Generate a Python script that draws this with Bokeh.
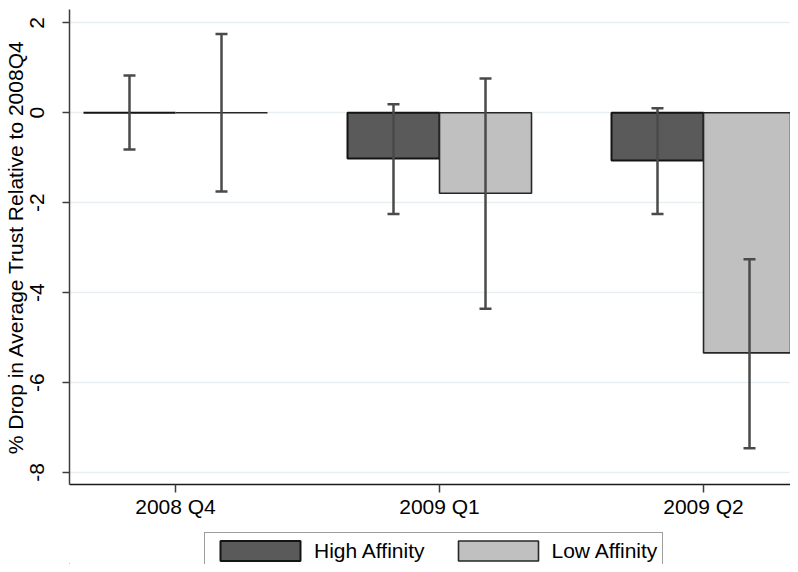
from bokeh.plotting import figure
from bokeh.layouts import column
from bokeh.models import (ColumnDataSource, Range1d, FixedTicker, Whisker, TeeHead,
                          Legend, LegendItem)
from bokeh.embed import file_html
from bokeh.resources import INLINE

# ---- data ----
quarters = ["2008 Q4", "2009 Q1", "2009 Q2"]
high_vals = [0.0, -1.02, -1.06]
high_lo = [-0.82, -2.25, -2.25]
high_hi = [0.83, 0.19, 0.10]
low_vals = [0.0, -1.79, -5.34]
low_lo = [-1.75, -4.36, -7.46]
low_hi = [1.75, 0.76, -3.26]
y_ticks = [-8, -6, -4, -2, 0, 2]
series_labels = ["High Affinity", "Low Affinity"]

FONT = "Liberation Sans"
BAR_W = 0.3485
HIGH_FILL, HIGH_LINE = "#5a5a5a", "#141414"
LOW_FILL, LOW_LINE = "#c0c0c0", "#262626"
idx = list(range(len(quarters)))

src_high = ColumnDataSource(dict(x=[i - BAR_W / 2 for i in idx], top=[0.0] * 3,
                                 bottom=high_vals, lower=high_lo, upper=high_hi))
src_low = ColumnDataSource(dict(x=[i + BAR_W / 2 for i in idx], top=[0.0] * 3,
                                bottom=low_vals, lower=low_lo, upper=low_hi))

p = figure(width=790, height=524, output_backend="svg", toolbar_location=None,
           x_range=Range1d(-0.4015, 2.3295), y_range=Range1d(-8.267, 2.296),
           min_border_left=69, min_border_right=0, min_border_top=9, min_border_bottom=40)
p.outline_line_color = None
p.background_fill_color = "white"
p.border_fill_color = "white"

p.vbar(x="x", top="top", bottom="bottom", width=BAR_W, source=src_high,
       fill_color=HIGH_FILL, line_color=HIGH_LINE, line_width=2)
p.vbar(x="x", top="top", bottom="bottom", width=BAR_W, source=src_low,
       fill_color=LOW_FILL, line_color=LOW_LINE, line_width=1.6)

for src in (src_high, src_low):
    w = Whisker(source=src, base="x", lower="lower", upper="upper",
                line_color="#4a4a4a", line_width=2.5, level="annotation",
                upper_head=TeeHead(size=12, line_color="#4a4a4a", line_width=2.5),
                lower_head=TeeHead(size=12, line_color="#4a4a4a", line_width=2.5))
    p.add_layout(w)

# grid
p.xgrid.visible = False
p.ygrid.ticker = FixedTicker(ticks=y_ticks)
p.ygrid.grid_line_color = "#e8eff2"
p.ygrid.grid_line_width = 1.5

# y axis
p.yaxis.ticker = FixedTicker(ticks=y_ticks)
p.yaxis.major_label_overrides = {t: str(t) for t in y_ticks}
p.yaxis.axis_label = "% Drop in Average Trust Relative to 2008Q4"
p.yaxis.axis_label_text_font = FONT
p.yaxis.axis_label_text_font_size = "21px"
p.yaxis.axis_label_text_font_style = "normal"
p.yaxis.axis_label_text_color = "black"
p.yaxis.axis_label_standoff = 1
p.yaxis.major_label_orientation = "vertical"
p.yaxis.major_label_text_font = FONT
p.yaxis.major_label_text_font_size = "21px"
p.yaxis.major_label_text_color = "black"
p.yaxis.major_label_standoff = 18
p.yaxis.major_tick_out = 7
p.yaxis.major_tick_in = 0
p.yaxis.minor_tick_line_color = None
p.yaxis.axis_line_color = "#3c3c3c"
p.yaxis.axis_line_width = 1.5
p.yaxis.major_tick_line_color = "#3c3c3c"
p.yaxis.major_tick_line_width = 1.5

# x axis
p.xaxis.ticker = FixedTicker(ticks=idx)
p.xaxis.major_label_overrides = {i: q for i, q in zip(idx, quarters)}
p.xaxis.major_label_text_font = FONT
p.xaxis.major_label_text_font_size = "21px"
p.xaxis.major_label_text_color = "black"
p.xaxis.major_label_standoff = 2
p.xaxis.major_tick_out = 8
p.xaxis.major_tick_in = 0
p.xaxis.minor_tick_line_color = None
p.xaxis.axis_line_color = "#1a1a1a"
p.xaxis.axis_line_width = 1.5
p.xaxis.major_tick_line_color = "#3c3c3c"
p.xaxis.major_tick_line_width = 1.5

# legend strip (separate figure so the legend is not clipped by the frame)
lg = figure(width=790, height=40, output_backend="svg", toolbar_location=None,
            x_axis_type=None, y_axis_type=None, min_border=0,
            x_range=Range1d(0, 1), y_range=Range1d(0, 1))
lg.outline_line_color = None
lg.grid.visible = False
# legend-proxy renderers: one point placed outside the visible range
proxy = dict(x=[-10.0], top=[-10.0], bottom=[-11.0])
d_high = lg.vbar(x="x", top="top", bottom="bottom", width=0.1, source=ColumnDataSource(proxy),
                 fill_color=HIGH_FILL, line_color=HIGH_LINE, line_width=2)
d_low = lg.vbar(x="x", top="top", bottom="bottom", width=0.1, source=ColumnDataSource(proxy),
                fill_color=LOW_FILL, line_color=LOW_LINE, line_width=1.6)
legend = Legend(items=[LegendItem(label=series_labels[0], renderers=[d_high]),
                       LegendItem(label=series_labels[1], renderers=[d_low])],
                orientation="horizontal", location=(135, -5),
                label_text_font=FONT, label_text_font_size="21px",
                label_text_color="black",
                glyph_width=100, glyph_height=25, label_standoff=4, spacing=23,
                padding=5, margin=0, border_line_color="#404040",
                border_line_width=1.5, background_fill_color="white",
                background_fill_alpha=1.0)
lg.add_layout(legend, "center")

layout = column(p, lg, spacing=0)
open("out.html", "w").write(file_html(layout, INLINE))
